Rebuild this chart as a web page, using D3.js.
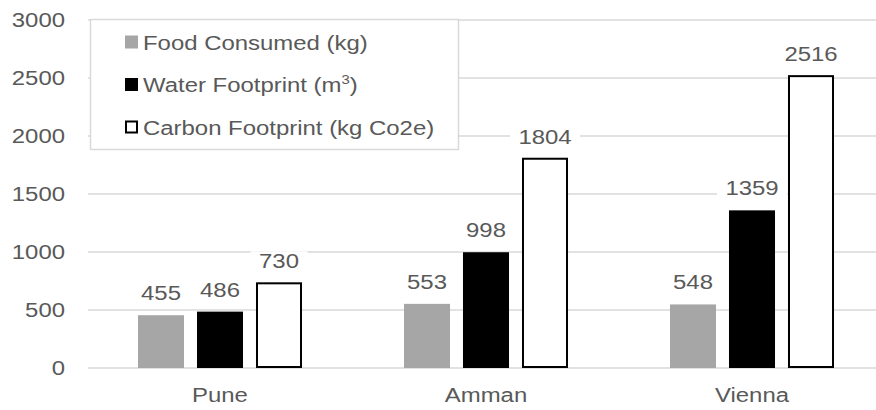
<!DOCTYPE html>
<html>
<head>
<meta charset="utf-8">
<script src="https://cdn.jsdelivr.net/npm/d3@7"></script>
<style>
  body { margin: 0; background: #fff; }
  text { font-family: "Liberation Sans", Arial, sans-serif; fill: #595959; }
</style>
</head>
<body>
<div id="root"></div>
<script>
var cities = ["Pune", "Amman", "Vienna"];
var series = ["Food Consumed (kg)", "Water Footprint (m3)", "Carbon Footprint (kg Co2e)"];
var food = [455, 553, 548];
var water = [486, 998, 1359];
var carbon = [730, 1804, 2516];
var yTicks = [0, 500, 1000, 1500, 2000, 2500, 3000];

var values = [food, water, carbon];
var fills = ["#a6a6a6", "#000000", "#ffffff"];

var width = 876, height = 410;
var stretch = "scale(1.14,1)"; // the original text is a bit wide

var svg = d3.select("#root")
    .append("svg")
    .attr("width", width)
    .attr("height", height);

var y = d3.scaleLinear().domain([0, 3000]).range([368, 20]);
var x0 = d3.scaleBand().domain(cities).range([87, 885]);
var x1 = d3.scaleBand().domain(d3.range(3))
    .range([44.5, 221.5])
    .paddingInner(0.22)
    .paddingOuter(0.11);

// gridlines
svg.append("g")
    .selectAll("line")
    .data(yTicks)
    .enter()
    .append("line")
    .attr("x1", 88)
    .attr("x2", width)
    .attr("y1", function (d) { return y(d); })
    .attr("y2", function (d) { return y(d); })
    .attr("stroke", "#d9d9d9")
    .attr("stroke-width", 1.5);

// y labels
var yAxis = d3.axisLeft(y).tickValues(yTicks).tickFormat(d3.format("d")).tickSize(0).tickPadding(0);
var ga = svg.append("g").attr("transform", "translate(65,0)").call(yAxis);
ga.select(".domain").remove();
ga.selectAll("text")
    .attr("x", 0)
    .attr("transform", stretch)
    .attr("font-size", 21)
    .attr("font-family", "Liberation Sans, Arial, sans-serif")
    .attr("fill", "#595959");

var cells = [];
cities.forEach(function (c, ci) {
    values.forEach(function (s, si) {
        cells.push({ city: c, s: si, v: s[ci] });
    });
});

// bars
svg.selectAll("rect.bar")
    .data(cells)
    .enter()
    .append("rect")
    .attr("class", "bar")
    .attr("x", function (d) { return x0(d.city) + x1(d.s) + (d.s == 2 ? 1 : 0); })
    .attr("y", function (d) { return y(d.v); })
    .attr("width", function (d) { return x1.bandwidth() - (d.s == 2 ? 2 : 0); })
    .attr("height", function (d) { return y(0) - y(d.v) - (d.s == 2 ? 1 : 0); })
    .attr("fill", function (d) { return fills[d.s]; })
    .attr("stroke", function (d) { return d.s == 2 ? "#000" : "none"; })
    .attr("stroke-width", 2);

// value labels with white backing
var lab = svg.selectAll("g.lab")
    .data(cells)
    .enter()
    .append("g")
    .attr("class", "lab")
    .attr("transform", function (d) {
        return "translate(" + (x0(d.city) + x1(d.s) + x1.bandwidth() / 2) + "," + (y(d.v) - 15) + ")";
    });

lab.append("rect")
    .attr("x", function (d) { return -String(d.v).length * 6.5 - 9; })
    .attr("y", -17)
    .attr("width", function (d) { return String(d.v).length * 13 + 18; })
    .attr("height", 19)
    .attr("fill", "#fff");

lab.append("text")
    .attr("text-anchor", "middle")
    .attr("transform", stretch)
    .attr("font-size", 21)
    .text(function (d) { return d.v; });

// category labels
svg.selectAll("text.cat")
    .data(cities)
    .enter()
    .append("text")
    .attr("class", "cat")
    .attr("transform", function (d) {
        return "translate(" + (x0(d) + x0.bandwidth() / 2) + ",402) " + stretch;
    })
    .attr("text-anchor", "middle")
    .attr("font-size", 21)
    .text(function (d) { return d; });

// legend
var legend = svg.append("g");
legend.append("rect")
    .attr("x", 90.5)
    .attr("y", 19.5)
    .attr("width", 368)
    .attr("height", 130)
    .attr("fill", "#fff")
    .attr("stroke", "#d9d9d9")
    .attr("stroke-width", 1.5);

var items = legend.selectAll("g.item")
    .data(series)
    .enter()
    .append("g")
    .attr("class", "item")
    .attr("transform", function (d, i) { return "translate(125," + (42 + i * 42.5) + ")"; });

items.append("rect")
    .attr("x", function (d, i) { return i == 2 ? 1 : 0; })
    .attr("y", function (d, i) { return i == 2 ? -5.5 : -6.5; })
    .attr("width", function (d, i) { return i == 2 ? 11 : 13; })
    .attr("height", function (d, i) { return i == 2 ? 11 : 13; })
    .attr("fill", function (d, i) { return fills[i]; })
    .attr("stroke", function (d, i) { return i == 2 ? "#000" : "none"; })
    .attr("stroke-width", 2);

items.append("text")
    .attr("transform", "translate(18,7.5) " + stretch)
    .attr("font-size", 21)
    .each(function (d) {
        var t = d3.select(this);
        if (d.indexOf("(m3)") >= 0) {
            t.append("tspan").text("Water Footprint (m");
            t.append("tspan").attr("dy", -8).attr("font-size", 13).text("3");
            t.append("tspan").attr("dy", 8).text(")");
        } else {
            t.text(d);
        }
    });
</script>
</body>
</html>
